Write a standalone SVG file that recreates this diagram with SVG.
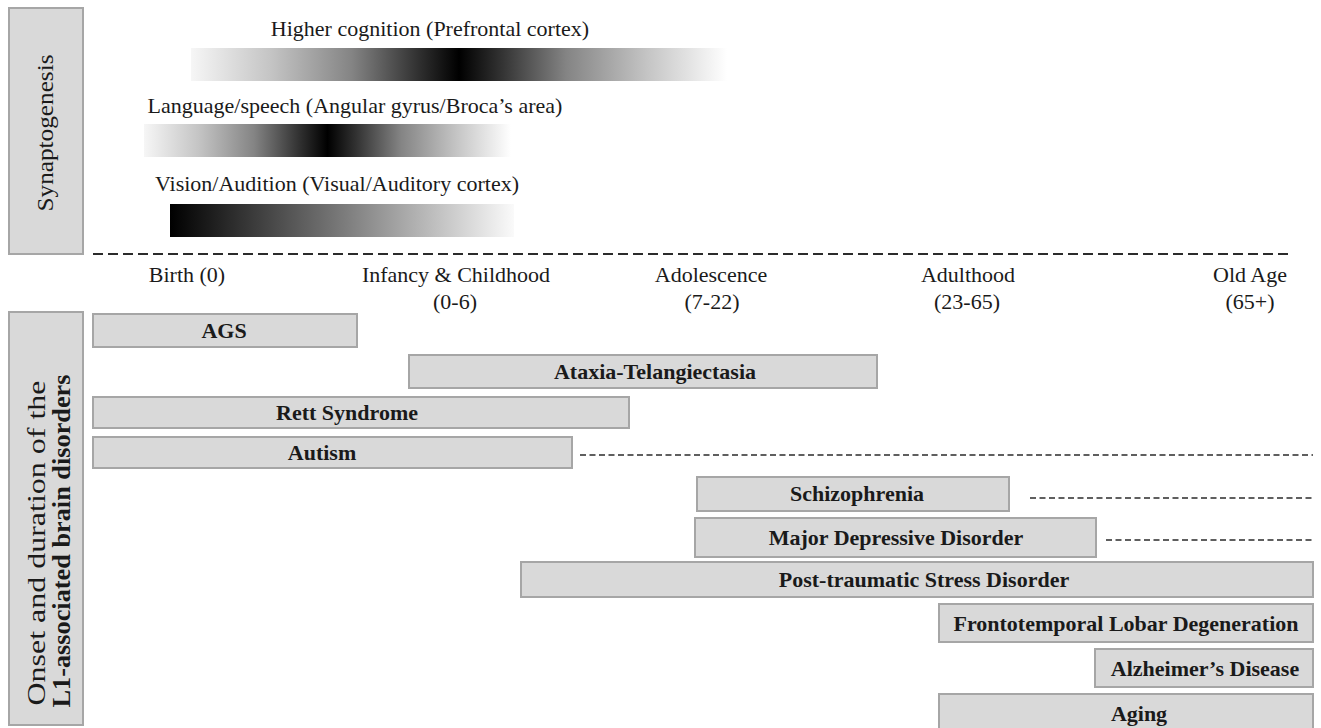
<svg xmlns="http://www.w3.org/2000/svg" width="1321" height="728" viewBox="0 0 1321 728">
  <style>
    text { font-family: "Liberation Serif", "Times New Roman", serif; fill: #1a1a1a; }
    .lbl { font-size: 22px; }
    .mid { text-anchor: middle; }
    .dis { font-size: 22px; font-weight: bold; text-anchor: middle; }
    .box { fill: #d9d9d9; stroke: #a6a6a6; stroke-width: 2; }
    .axis { stroke: #2b2b2b; stroke-width: 2; stroke-dasharray: 10 5; fill: none; }
    .cont { stroke: #2b2b2b; stroke-width: 1.5; stroke-dasharray: 6 3.5; fill: none; }
  </style>
  <defs>
    <linearGradient id="gPeak" x1="0" y1="0" x2="1" y2="0">
      <stop offset="0" stop-color="#f6f6f6"/>
      <stop offset="0.15" stop-color="#c4c4c4"/>
      <stop offset="0.3" stop-color="#848484"/>
      <stop offset="0.42" stop-color="#333333"/>
      <stop offset="0.5" stop-color="#000000"/>
      <stop offset="0.58" stop-color="#333333"/>
      <stop offset="0.7" stop-color="#848484"/>
      <stop offset="0.85" stop-color="#c4c4c4"/>
      <stop offset="1" stop-color="#ffffff"/>
    </linearGradient>
    <linearGradient id="gFade" x1="0" y1="0" x2="1" y2="0">
      <stop offset="0" stop-color="#000000"/>
      <stop offset="0.5" stop-color="#7a7a7a"/>
      <stop offset="1" stop-color="#fafafa"/>
    </linearGradient>
  </defs>

  <!-- Synaptogenesis side panel -->
  <g id="synaptogenesis-panel">
    <rect class="box" x="9" y="8" width="74" height="246"/>
    <text class="mid" transform="translate(53,133) rotate(-90)" style="font-size:24px" textLength="157" lengthAdjust="spacingAndGlyphs">Synaptogenesis</text>
  </g>

  <g id="higher-cognition">
    <text class="lbl mid" x="430" y="36">Higher cognition (Prefrontal cortex)</text>
    <rect x="191" y="48" width="536" height="33" fill="url(#gPeak)"/>
  </g>
  <g id="language-speech">
    <text class="lbl mid" x="355" y="113">Language/speech (Angular gyrus/Broca’s area)</text>
    <rect x="144" y="124" width="367" height="33" fill="url(#gPeak)"/>
  </g>
  <g id="vision-audition">
    <text class="lbl mid" x="337" y="191">Vision/Audition (Visual/Auditory cortex)</text>
    <rect x="170" y="204" width="344" height="33" fill="url(#gFade)"/>
  </g>

  <!-- Timeline labels -->
  <g id="timeline-labels">
    <text class="lbl mid" x="187" y="282">Birth (0)</text>
    <text class="lbl mid" x="456" y="282">Infancy &amp; Childhood</text>
    <text class="lbl mid" x="455" y="309">(0-6)</text>
    <text class="lbl mid" x="711" y="282">Adolescence</text>
    <text class="lbl mid" x="712" y="309">(7-22)</text>
    <text class="lbl mid" x="968" y="282">Adulthood</text>
    <text class="lbl mid" x="967" y="309">(23-65)</text>
    <text class="lbl mid" x="1250" y="282">Old Age</text>
    <text class="lbl mid" x="1250" y="309">(65+)</text>
  </g>

  <!-- Disorders side panel -->
  <g id="disorders-panel">
    <rect class="box" x="9" y="312" width="74" height="413"/>
    <text class="mid" transform="translate(45,543) rotate(-90)" style="font-size:25px" textLength="325" lengthAdjust="spacingAndGlyphs">Onset and duration of the</text>
    <text class="mid" transform="translate(70,541) rotate(-90)" style="font-size:25px;font-weight:bold" textLength="333" lengthAdjust="spacingAndGlyphs">L1-associated brain disorders</text>
  </g>

  <g id="connectors">
    <line class="axis" x1="93" y1="254" x2="1289" y2="254"/>
    <line class="cont" x1="580" y1="455" x2="1313" y2="455"/>
    <line class="cont" x1="1030" y1="498" x2="1313" y2="498"/>
    <line class="cont" x1="1106" y1="540" x2="1313" y2="540"/>
  </g>

  <g id="ags">
    <rect class="box" x="93" y="314" width="264" height="33"/>
    <text class="dis" x="224" y="338">AGS</text>
  </g>
  <g id="ataxia-telangiectasia">
    <rect class="box" x="409" y="355" width="468" height="33"/>
    <text class="dis" x="655" y="379">Ataxia-Telangiectasia</text>
  </g>
  <g id="rett-syndrome">
    <rect class="box" x="93" y="397" width="536" height="31"/>
    <text class="dis" x="347" y="420">Rett Syndrome</text>
  </g>
  <g id="autism">
    <rect class="box" x="93" y="437" width="479" height="31"/>
    <text class="dis" x="322" y="460">Autism</text>
  </g>
  <g id="schizophrenia">
    <rect class="box" x="697" y="477" width="312" height="34"/>
    <text class="dis" x="857" y="501">Schizophrenia</text>
  </g>
  <g id="major-depressive-disorder">
    <rect class="box" x="695" y="518" width="401" height="39"/>
    <text class="dis" x="896" y="545">Major Depressive Disorder</text>
  </g>
  <g id="ptsd">
    <rect class="box" x="521" y="562" width="792" height="35"/>
    <text class="dis" x="924" y="587">Post-traumatic Stress Disorder</text>
  </g>
  <g id="ftld">
    <rect class="box" x="939" y="604" width="374" height="38"/>
    <text class="dis" x="1126" y="631">Frontotemporal Lobar Degeneration</text>
  </g>
  <g id="alzheimers">
    <rect class="box" x="1095" y="649" width="218" height="38"/>
    <text class="dis" x="1205" y="676">Alzheimer’s Disease</text>
  </g>
  <g id="aging">
    <rect class="box" x="939" y="694" width="374" height="45"/>
    <text class="dis" x="1139" y="721">Aging</text>
  </g>
</svg>
